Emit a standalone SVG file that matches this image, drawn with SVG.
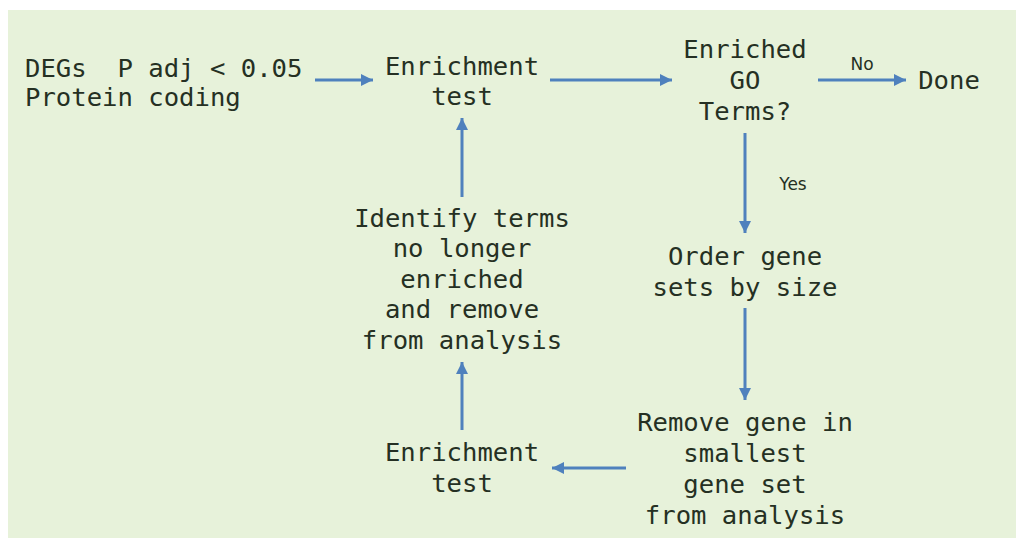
<svg xmlns="http://www.w3.org/2000/svg" width="1016" height="538" viewBox="0 0 1016 538">
  <style>
    .t { font-family: "DejaVu Sans Mono", "Liberation Mono", monospace; font-size: 25.6px; fill: #253023; text-anchor: middle; }
    .l { font-family: "DejaVu Sans", "Liberation Sans", sans-serif; font-size: 17px; fill: #253023; text-anchor: middle; }
    .c { stroke: #4f81bd; stroke-width: 3; fill: none; marker-end: url(#ah); }
  </style>
  <defs>
    <marker id="ah" markerUnits="userSpaceOnUse" markerWidth="14" markerHeight="14" refX="12" refY="6" orient="auto">
      <path d="M0,0 L12,6 L0,12 Z" fill="#4f81bd"/>
    </marker>
  </defs>
  <rect x="0" y="0" width="1016" height="538" fill="#ffffff"/>
  <rect x="8" y="10" width="1008" height="528" fill="#e7f2da"/>

  <g id="connectors">
    <line class="c" x1="315" y1="80" x2="373" y2="80"/>
    <line class="c" x1="550" y1="80" x2="672" y2="80"/>
    <line class="c" x1="818" y1="80" x2="906" y2="80"/>
    <line class="c" x1="745" y1="133" x2="745" y2="233"/>
    <line class="c" x1="745" y1="308" x2="745" y2="400"/>
    <line class="c" x1="626" y1="468" x2="552" y2="468"/>
    <line class="c" x1="462" y1="430" x2="462" y2="362"/>
    <line class="c" x1="462" y1="197" x2="462" y2="118"/>
    <text class="l" x="862" y="70">No</text>
    <text class="l" x="793" y="190">Yes</text>
  </g>

  <g id="input">
    <text class="t" x="25" y="77" style="text-anchor:start" xml:space="preserve">DEGs  P adj &lt; 0.05</text>
    <text class="t" x="25" y="106" style="text-anchor:start">Protein coding</text>
  </g>
  <g id="enrichment-test-1">
    <text class="t" x="462" y="75">Enrichment</text>
    <text class="t" x="462" y="105">test</text>
  </g>
  <g id="enriched-go">
    <text class="t" x="745" y="58">Enriched</text>
    <text class="t" x="745" y="89">GO</text>
    <text class="t" x="745" y="120">Terms?</text>
  </g>
  <g id="done">
    <text class="t" x="949" y="89">Done</text>
  </g>
  <g id="order-gene-sets">
    <text class="t" x="745" y="265">Order gene</text>
    <text class="t" x="745" y="296">sets by size</text>
  </g>
  <g id="remove-gene">
    <text class="t" x="745" y="431">Remove gene in</text>
    <text class="t" x="745" y="462">smallest</text>
    <text class="t" x="745" y="493">gene set</text>
    <text class="t" x="745" y="524">from analysis</text>
  </g>
  <g id="enrichment-test-2">
    <text class="t" x="462" y="461">Enrichment</text>
    <text class="t" x="462" y="492">test</text>
  </g>
  <g id="identify-terms">
    <text class="t" x="462" y="227">Identify terms</text>
    <text class="t" x="462" y="257">no longer</text>
    <text class="t" x="462" y="288">enriched</text>
    <text class="t" x="462" y="318">and remove</text>
    <text class="t" x="462" y="349">from analysis</text>
  </g>
</svg>
